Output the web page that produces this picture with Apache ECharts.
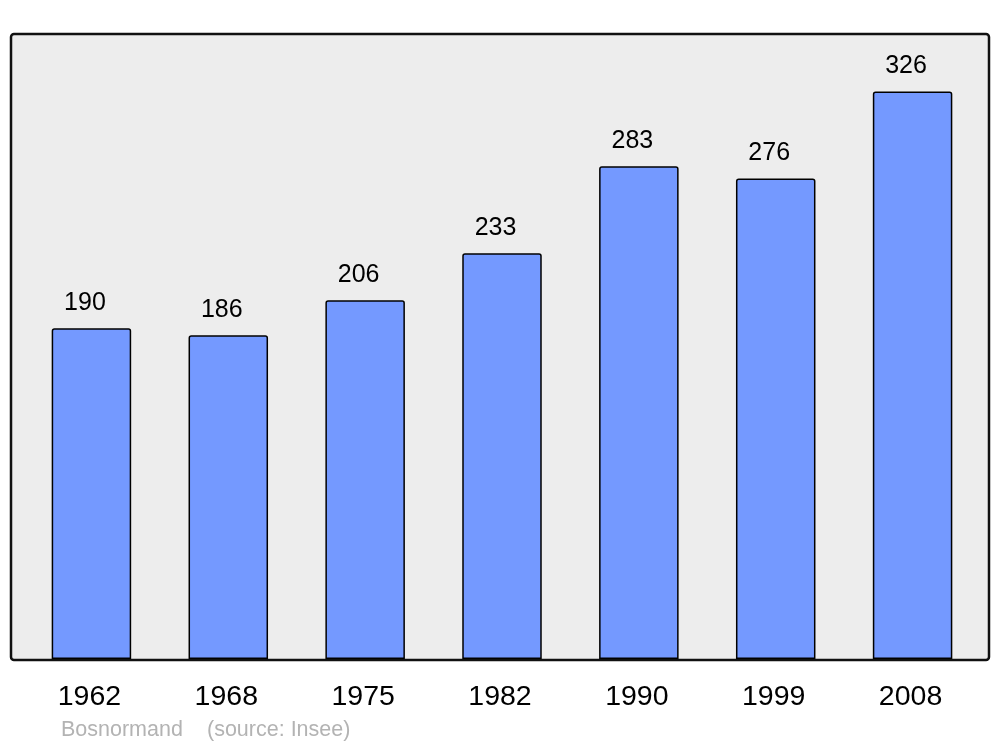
<!DOCTYPE html>
<html>
<head>
<meta charset="utf-8">
<script src="https://cdn.jsdelivr.net/npm/echarts@6/dist/echarts.min.js"></script>
<style>html,body{margin:0;padding:0;background:#fff;}#c{width:1000px;height:747px;}</style>
</head>
<body>
<div id="c"></div>
<script>
const years = ['1962','1968','1975','1982','1990','1999','2008'];
const population = [190,186,206,233,283,276,326];
const footerAuthor = 'Bosnormand';
const footerSource = '(source: Insee)';

const chart = echarts.init(document.getElementById('c'));
chart.setOption({
  animation: false,
  backgroundColor: '#ffffff',
  graphic: [
    {type:'rect', z:-10, shape:{x:11,y:34,width:978,height:626,r:3},
     style:{fill:'#ededed', stroke:'#111111', lineWidth:2.5}},
    {type:'text', left:61, top:719, style:{text:footerAuthor, fill:'#b3b3b3', font:'21.5px "Liberation Sans", Arial, sans-serif'}},
    {type:'text', left:207, top:719, style:{text:footerSource, fill:'#b3b3b3', font:'21.5px "Liberation Sans", Arial, sans-serif'}}
  ],
  grid: {left:23, right:19, top:34, bottom:88},
  xAxis: {
    type:'category', data: years,
    axisLine:{show:false}, axisTick:{show:false},
    axisLabel:{color:'#000', fontSize:28.5, fontFamily:'"Liberation Sans", Arial, sans-serif', margin:24, padding:[0,4,0,0]}
  },
  yAxis: {type:'value', min:0, max:359, show:false, splitLine:{show:false}},
  series: [{
    type:'bar', data: population, barWidth:79.5,
    itemStyle:{color:'#7499ff', borderColor:'#000', borderWidth:1.5, borderRadius:[2,2,0,0]},
    label:{show:true, position:'top', distance:13, offset:[-6.5,0], color:'#000', fontSize:25, fontFamily:'"Liberation Sans", Arial, sans-serif'}
  }]
});
</script>
</body>
</html>
